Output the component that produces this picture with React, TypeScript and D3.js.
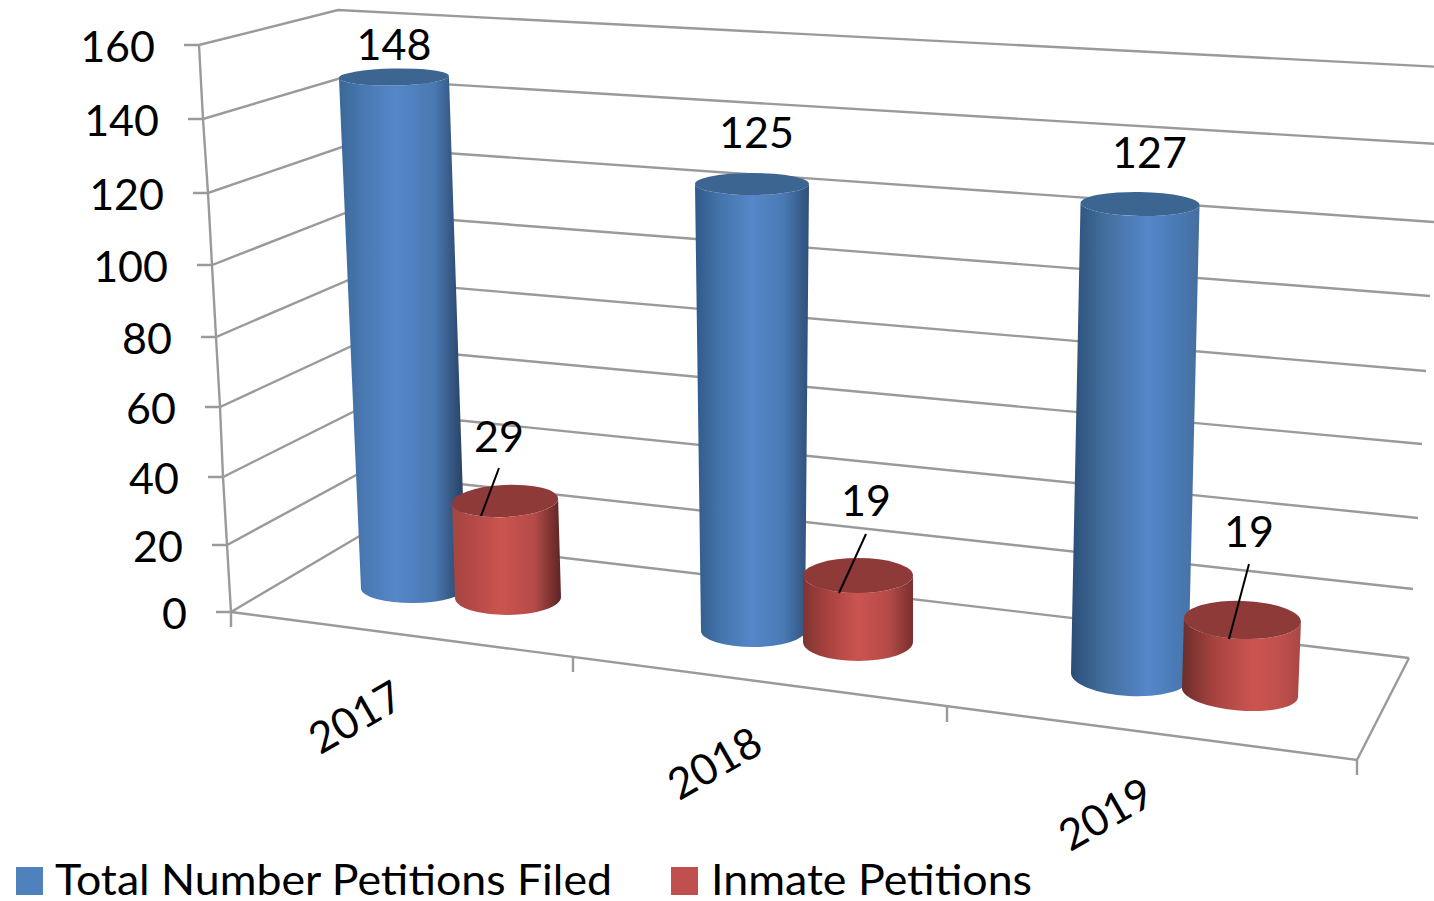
import React from "react";
import * as d3 from "d3";

const years = ["2017", "2018", "2019"];
const totalPetitions = [148, 125, 127];
const inmatePetitions = [29, 19, 19];
const seriesNames = ["Total Number Petitions Filed", "Inmate Petitions"];
const axisTicks = [0, 20, 40, 60, 80, 100, 120, 140, 160];

const W = 1434, H = 901;
const FONT = "Lato, Carlito, Calibri, sans-serif";
const GRID = "#9a9a9a";

// Perspective of the walls: each edge of the box is a scale of the value axis.
const edge = (range: number[]) => d3.scaleLinear().domain(axisTicks).range(range);
const frontX = edge([231, 227, 223, 220, 216, 212, 208, 203, 199]);
const frontY = edge([612, 545, 477, 407, 337, 265, 193, 119, 45]);
const backX = edge([363, 360, 357, 354, 351, 348, 345, 341, 338]);
const backY = edge([534, 473, 410, 345, 279, 212, 146, 78, 10]);
const rightX = edge([1409, 1413, 1418, 1422, 1426, 1430, 1434, 1438, 1442]);
const rightY = edge([658, 589, 518, 444, 371, 296, 222, 144, 67]);

// Floor front edge, with the three category boundaries.
const floorX = d3.scaleLinear().domain([0, 1, 2, 3]).range([231, 573, 947, 1357]);
const floorY = d3.scaleLinear().domain([0, 1, 2, 3]).range([612, 657, 707, 760]);

// Placement of the cylinders per series, by category.
const placement = (v: number[][]) => d3.scaleOrdinal<string, number[]>().domain(years).range(v);
// base centre x, base centre y, base half width, px per unit, top lean per unit, top half width, top ry, base ry, top tilt, base tilt
const totalPlace = placement([
  [413.5, 588, 52.5, 3.453, -0.132, 55, 8.5, 15, -0.018, -0.01],
  [753, 631, 52, 3.576, -0.008, 57, 11, 16, 0, 0],
  [1129.5, 676, 58.5, 3.717, 0.083, 59.5, 12, 20, 0.017, 0.06],
]);
const inmatePlace = placement([
  [508, 597.5, 53, 3.33, -0.1, 53, 16, 17.5, -0.047, -0.01],
  [858, 642, 55, 3.5, 0, 55, 17.5, 19, 0, 0],
  [1240, 692.5, 58, 3.82, 0.13, 58.5, 19, 18, 0.034, 0.08],
]);

// Anchor of the value labels, by series and category.
const totalLabel = d3.scaleOrdinal<string, number[]>().domain(years).range([[394, 43], [756.5, 131], [1149.5, 151]]);
const inmateLabel = d3.scaleOrdinal<string, number[]>().domain(years).range([[499, 435], [866, 499], [1249, 530]]);
const leaderStart = d3.scaleOrdinal<string, number[]>().domain(years).range([[499, 468], [866, 534], [1249, 564]]);
const leaderEnd = d3.scaleOrdinal<string, number[]>().domain(years).range([[481, 516], [839, 593], [1229, 639]]);
const yearLabel = d3.scaleOrdinal<string, number[]>().domain(years).range([[355, 716], [714, 762], [1105, 813]]);

const blueShade = d3.scaleOrdinal<string, string[]>().domain(years).range([
  ["#3b6797", "#4a79b3", "#5587c9", "#4a78b2", "#243d5c"],
  ["#30598a", "#4575ab", "#5587c9", "#4a7ab5", "#2f4f78"],
  ["#2b4e78", "#436f9f", "#5587c9", "#4a7ab5", "#456e9e"],
]);
const redShade = d3.scaleOrdinal<string, string[]>().domain(years).range([
  ["#a54541", "#b54a47", "#cb5450", "#b54b49", "#5c2524"],
  ["#7f3432", "#a9423f", "#cb5450", "#b44b48", "#7a2f2e"],
  ["#6b2d2b", "#a7433f", "#cb5450", "#c0504d", "#a94744"],
]);
const highlight = d3.scaleOrdinal<string, number>().domain(years).range([0.45, 0.5, 0.6]);

type CylProps = { value: number; place: number[]; id: string; cap: string };

function Cylinder({ value, place, id, cap }: CylProps) {
  const [bx, by, bHalf, unit, lean, tHalf, tRy, bRy, tS, bS] = place;
  const h = d3.scaleLinear().domain([0, value]).range([by, by - value * unit]);
  const topY = h(value);
  const topCx = bx + lean * value;
  const tRot = (Math.atan(tS) * 180) / Math.PI, bRot = (Math.atan(bS) * 180) / Math.PI;
  const tl = [topCx - tHalf, topY - tS * tHalf], tr = [topCx + tHalf, topY + tS * tHalf];
  const bl = [bx - bHalf, by - bS * bHalf], br = [bx + bHalf, by + bS * bHalf];
  const side = `M${tl}A${tHalf} ${tRy} ${tRot} 0 0 ${tr}L${br}A${bHalf} ${bRy} ${bRot} 0 1 ${bl}Z`;
  return (
    <g>
      <path d={side} fill={`url(#${id})`} />
      <ellipse cx={topCx} cy={topY} rx={tHalf} ry={tRy} fill={cap}
        transform={`rotate(${tRot} ${topCx} ${topY})`} />
    </g>
  );
}

function Grad({ id, colors, mid }: { id: string; colors: string[]; mid: number }) {
  const offsets = [0, mid * 0.45, mid, mid + (1 - mid) * 0.55, 1];
  return (
    <linearGradient id={id} x1="0" x2="1" y1="0" y2="0">
      {colors.map((c, i) => <stop key={i} offset={offsets[i]} stopColor={c} />)}
    </linearGradient>
  );
}

const txt = { fontFamily: FONT, fontSize: 43, fill: "#000" } as const;

export default function App() {
  return (
    <svg width={W} height={H} viewBox={`0 0 ${W} ${H}`}
      style={{ position: "fixed", left: 0, top: 0, background: "#fff" }}>
      <defs>
        {years.map((y) => <Grad key={"b" + y} id={"b" + y} colors={blueShade(y)} mid={highlight(y)} />)}
        {years.map((y) => <Grad key={"r" + y} id={"r" + y} colors={redShade(y)} mid={highlight(y)} />)}
      </defs>

      <g stroke={GRID} strokeWidth={2.4} fill="none">
        {axisTicks.map((t) => (
          <path key={t} d={`M${frontX(t) - 15},${frontY(t)}H${frontX(t)}L${backX(t)},${backY(t)}L${rightX(t)},${rightY(t)}`} />
        ))}
        <path d={d3.line()(axisTicks.map((t) => [frontX(t), frontY(t)] as [number, number])) || ""} />
        <path d={`M${floorX(0)},${floorY(0)}L${floorX(3)},${floorY(3)}L${rightX(0)},${rightY(0)}`} />
        {floorX.domain().map((d) => (
          <path key={d} d={`M${floorX(d)},${floorY(d)}v15`} />
        ))}
      </g>

      {years.map((y, i) => (
        <g key={y}>
          <Cylinder value={totalPetitions[i]} place={totalPlace(y)} id={"b" + y} cap="#3d6592" />
          <Cylinder value={inmatePetitions[i]} place={inmatePlace(y)} id={"r" + y} cap="#8e3a38" />
        </g>
      ))}

      {axisTicks.map((t) => (
        <text key={t} {...txt} x={frontX(t) - 44} y={frontY(t)} textAnchor="end" dominantBaseline="central">{t}</text>
      ))}

      {years.map((y, i) => {
        const [ax, ay] = inmateLabel(y);
        const [sx, sy] = leaderStart(y);
        const [ex, ey] = leaderEnd(y);
        const [lx, ly] = yearLabel(y);
        const [tx, tyy] = totalLabel(y);
        return (
          <g key={y}>
            <line x1={sx} y1={sy} x2={ex} y2={ey} stroke="#000" strokeWidth={2} />
            <text {...txt} x={tx} y={tyy} textAnchor="middle" dominantBaseline="central">{totalPetitions[i]}</text>
            <text {...txt} x={ax} y={ay} textAnchor="middle" dominantBaseline="central">{inmatePetitions[i]}</text>
            <text {...txt} textAnchor="middle" dominantBaseline="central"
              transform={`translate(${lx},${ly}) rotate(-30)`}>{y}</text>
          </g>
        );
      })}

      <g>
        <rect x={16} y={867} width={27} height={28} fill="#4f81bd" />
        <text {...txt} x={55} y={878} dominantBaseline="central" textLength={557} lengthAdjust="spacingAndGlyphs">{seriesNames[0]}</text>
        <rect x={671} y={867} width={27} height={28} fill="#c0504d" />
        <text {...txt} x={711} y={878} dominantBaseline="central" textLength={321} lengthAdjust="spacingAndGlyphs">{seriesNames[1]}</text>
      </g>
    </svg>
  );
}
